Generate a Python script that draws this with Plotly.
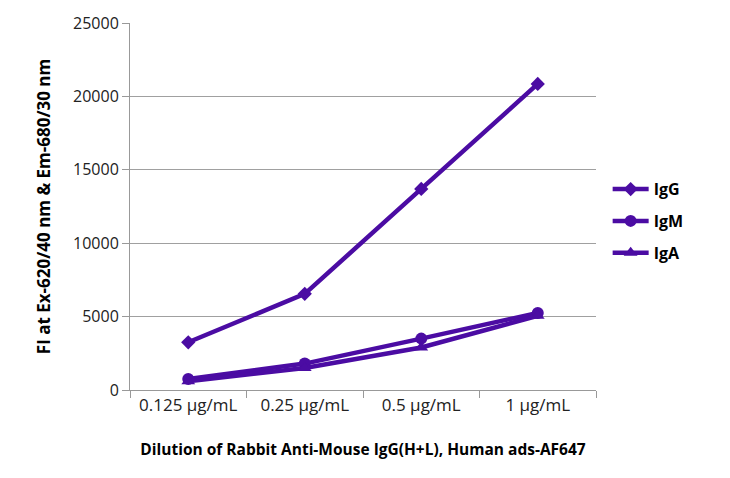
import plotly.graph_objects as go

categories = ["0.125 µg/mL", "0.25 µg/mL", "0.5 µg/mL", "1 µg/mL"]
igg = [3250, 6550, 13700, 20850]
igm = [750, 1800, 3500, 5250]
iga = [600, 1500, 2900, 5050]
y_ticks = [0, 5000, 10000, 15000, 20000, 25000]

color = "#4b0ca3"
font = "Open Sans, Liberation Sans, sans-serif"

fig = go.Figure()
series = [("IgG", igg, "diamond", 11), ("IgM", igm, "circle", 12), ("IgA", iga, "triangle-up", 12)]
for name, vals, sym, size in series:
    fig.add_trace(go.Scatter(
        x=categories, y=vals, name=name, mode="lines+markers", legendgroup=name,
        line=dict(color=color, width=4.5),
        marker=dict(symbol=sym, size=size, color=color),
    ))

fig.update_layout(
    width=730, height=478,
    margin=dict(l=130, r=134, t=19, b=88),
    plot_bgcolor="white", paper_bgcolor="white",
    font=dict(family=font, size=16, color="#222"),
    showlegend=True,
    legend=dict(x=1.025, y=0.46, xanchor="left", yanchor="middle",
                font=dict(size=16, color="black", family=font, weight="bold"),
                itemwidth=36, tracegroupgap=8),
    xaxis=dict(
        range=[-0.5, len(categories) - 0.5],
        showline=True, linecolor="#999", linewidth=1,
        ticks="outside", ticklen=7, tickcolor="#999",
        tickson="boundaries", showgrid=False,
        tickfont=dict(size=17, color="#222"),
        title=dict(text="Dilution of Rabbit Anti-Mouse IgG(H+L), Human ads-AF647",
                   font=dict(size=15.5, color="black", weight="bold"), standoff=28),
    ),
    yaxis=dict(
        range=[0, 25000], tickvals=y_ticks, ticktext=[str(v) for v in y_ticks],
        showline=True, linecolor="#999", linewidth=1,
        ticks="outside", ticklen=7, tickcolor="#999",
        showgrid=True, gridcolor="#a0a0a0", gridwidth=1, zeroline=False,
        tickfont=dict(size=16, color="#222"),
        title=dict(text="FI at Ex-620/40 nm & Em-680/30 nm",
                   font=dict(size=17, color="black", weight="bold"), standoff=18),
    ),
)

fig.write_html("out.html")
